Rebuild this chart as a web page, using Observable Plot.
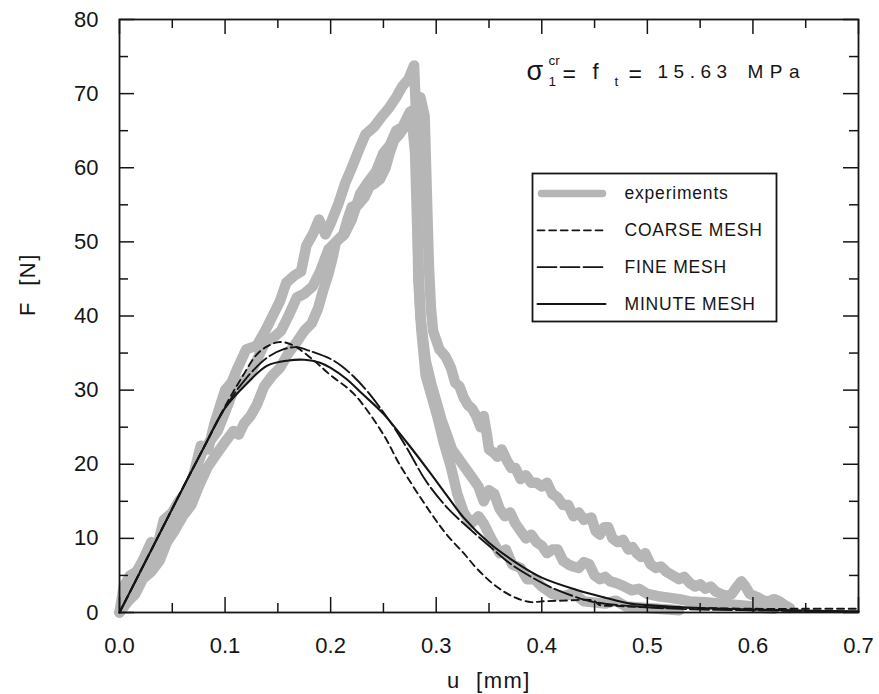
<!DOCTYPE html>
<html>
<head>
<meta charset="utf-8">
<script src="https://cdn.jsdelivr.net/npm/d3@7"></script>
<script src="https://cdn.jsdelivr.net/npm/@observablehq/plot@0.6"></script>
<style>
  html, body { margin: 0; padding: 0; background: #fff; }
  #chart svg { display: block; }
</style>
</head>
<body>
<div id="chart"></div>
<script>
// ---------- data ----------
const xMajor = [0, 0.1, 0.2, 0.3, 0.4, 0.5, 0.6, 0.7];
const xMinor = [0.05, 0.15, 0.25, 0.35, 0.45, 0.55, 0.65];
const yMajor = [0, 10, 20, 30, 40, 50, 60, 70, 80];
const yMinor = [5, 15, 25, 35, 45, 55, 65, 75];

const legendLabels = ["experiments", "COARSE MESH", "FINE MESH", "MINUTE MESH"];

// experiment 1 (highest peak, ends in the lowest tail)
const uExp1 = [0, 0.004, 0.01, 0.016, 0.022, 0.03, 0.036, 0.042, 0.05, 0.056, 0.062, 0.07, 0.077, 0.084, 0.09, 0.1, 0.106, 0.112, 0.12, 0.13, 0.138, 0.145, 0.152, 0.158, 0.166, 0.172, 0.177, 0.183, 0.189, 0.195, 0.2, 0.207, 0.214, 0.22, 0.227, 0.233, 0.241, 0.249, 0.255, 0.262, 0.268, 0.274, 0.279,
  0.281, 0.282, 0.283, 0.286, 0.29, 0.296, 0.301, 0.307, 0.314, 0.32, 0.326, 0.333, 0.34, 0.345, 0.352, 0.36, 0.366, 0.372, 0.38, 0.386, 0.393, 0.4, 0.41, 0.42, 0.43, 0.44, 0.46, 0.47, 0.48, 0.5, 0.53];
const fExp1 = [0, 3.5, 5, 5.5, 7, 9.5, 9, 12.5, 13.5, 15, 16, 18.5, 22.5, 22, 25.5, 30, 31, 33, 35.5, 36, 38, 40, 42, 44.5, 45.5, 46, 49.5, 51, 53, 51, 52.5, 55, 58, 60, 62.5, 64.5, 65.5, 67, 68, 69.5, 71, 72, 73.8,
  67, 56, 45, 38, 32, 29, 26.5, 23, 19.6, 16, 13.5, 12, 13, 12, 10, 8, 8.5, 6.5, 6, 4.5, 4.5, 3.5, 2.5, 2.2, 2.6, 1.5, 1.2, 1.6, 0.8, 0.6, 0.3];

// experiment 2 (middle rise, ends in the upper tail)
const uExp2 = [0, 0.01, 0.018, 0.025, 0.033, 0.04, 0.048, 0.055, 0.063, 0.07, 0.078, 0.085, 0.093, 0.1, 0.108, 0.115, 0.123, 0.13, 0.138, 0.145, 0.153, 0.16, 0.168, 0.175, 0.183, 0.19, 0.198, 0.205, 0.213, 0.22, 0.228, 0.235, 0.243, 0.25, 0.256, 0.262, 0.268, 0.275, 0.28, 0.285, 0.289, 0.291, 0.293, 0.295, 0.297,
  0.303, 0.309, 0.314, 0.318, 0.322, 0.326, 0.33, 0.334, 0.338, 0.342, 0.345, 0.348, 0.35, 0.355, 0.358, 0.362, 0.367, 0.371, 0.375, 0.38, 0.385, 0.39, 0.395, 0.4, 0.405, 0.41, 0.415, 0.42, 0.425, 0.43, 0.435, 0.44, 0.447, 0.451, 0.455, 0.459, 0.463, 0.467, 0.472, 0.477, 0.482, 0.486, 0.49, 0.494, 0.498, 0.503, 0.508, 0.513, 0.518, 0.524, 0.53, 0.535, 0.54, 0.545, 0.55, 0.555, 0.56, 0.565, 0.57, 0.575, 0.58, 0.585, 0.589, 0.593, 0.597, 0.605, 0.61, 0.615, 0.62, 0.625, 0.63, 0.635];
const fExp2 = [0, 2, 4.5, 6, 7, 10, 12.5, 14, 15, 18.5, 21.5, 23, 24.5, 27, 30, 31, 32, 34, 36.5, 37, 38, 40, 42.5, 43, 44, 46, 49, 50, 51, 53, 56.5, 58, 59.5, 62, 63, 65, 65.5, 67.5, 68, 69.5, 67, 57, 47, 41, 38,
  35.5, 34.5, 33, 31, 30.5, 29, 28, 27.5, 26.5, 25, 26.5, 24, 22, 21.5, 21, 22, 20.5, 19.5, 19.5, 18, 18.5, 17.5, 17.5, 17, 17.5, 16, 15.5, 14.5, 14.5, 13, 13.5, 12.5, 12.8, 11, 10.5, 11.5, 11.5, 10, 9.5, 9.8, 8.5, 8.8, 8, 7.5, 8, 6.5, 6, 6.2, 5.5, 5, 4.5, 4.8, 4, 3.5, 3.8, 3.2, 3.5, 2.8, 2.5, 2.2, 2.5, 3.5, 4.2, 3.5, 2.5, 2, 1.6, 1.5, 1.8, 1.5, 1, 0.6];

// experiment 3 (lower rise, ends in the middle tail)
const uExp3 = [0, 0.008, 0.015, 0.022, 0.03, 0.038, 0.045, 0.052, 0.06, 0.068, 0.075, 0.083, 0.09, 0.1, 0.108, 0.113, 0.118, 0.124, 0.13, 0.137, 0.145, 0.152, 0.16, 0.168, 0.175, 0.182, 0.188, 0.193, 0.198, 0.202, 0.205, 0.212, 0.216, 0.22, 0.226, 0.232, 0.237, 0.242, 0.247, 0.252, 0.256, 0.26, 0.265, 0.27, 0.277, 0.28, 0.282, 0.285,
  0.29, 0.295, 0.3, 0.305, 0.31, 0.315, 0.32, 0.325, 0.33, 0.335, 0.34, 0.345, 0.35, 0.355, 0.36, 0.365, 0.37, 0.375, 0.38, 0.385, 0.39, 0.395, 0.4, 0.405, 0.41, 0.415, 0.42, 0.425, 0.43, 0.435, 0.44, 0.445, 0.45, 0.455, 0.46, 0.465, 0.47, 0.477, 0.485, 0.492, 0.5, 0.51, 0.52, 0.53, 0.54, 0.555, 0.57, 0.585, 0.6, 0.61, 0.62];
const fExp3 = [0, 1.5, 2.5, 4.5, 5.5, 7, 9.5, 11, 13, 14.5, 17, 19.5, 21, 23, 24.5, 24, 25.5, 26.5, 28, 30.5, 32, 33, 35, 36.5, 38, 39, 41, 43.5, 45.7, 48, 50, 51, 53, 54.7, 55, 56, 57.5, 57.9, 58.5, 60, 62, 63.7, 64.5, 65.5, 66.5, 62, 52, 40,
  34, 31, 28.5, 26, 24, 22, 21, 20, 19, 18, 17, 15, 16.5, 16, 14, 13, 13.5, 12, 11, 10, 10.5, 9.5, 9, 8, 8.5, 8.5, 7, 6.5, 6.2, 6, 6.8, 6.5, 5, 4.5, 4.8, 4.2, 4, 3.6, 3, 3.2, 2.5, 2.2, 2, 1.8, 1.5, 1.4, 1.2, 1, 0.8, 0.6, 0.5];

// numerical models
const uCoarse = [0, 0.02, 0.04, 0.06, 0.08, 0.1, 0.115, 0.13, 0.14, 0.152, 0.165, 0.184, 0.2, 0.222, 0.25, 0.266, 0.295, 0.31, 0.326, 0.34, 0.358, 0.375, 0.39, 0.4, 0.42, 0.449, 0.455, 0.47, 0.5, 0.55, 0.6, 0.65, 0.7];
const fCoarse = [0, 5.6, 11.2, 16.8, 22.3, 27.8, 31.5, 34.8, 35.9, 36.5, 36, 34, 32, 29.5, 24, 19.8, 13.4, 10.5, 8, 5.7, 3.4, 2, 1.4, 1.5, 1.6, 1.6, 1, 0.9, 0.7, 0.6, 0.5, 0.5, 0.5];

const uFine = [0, 0.02, 0.04, 0.06, 0.08, 0.1, 0.12, 0.14, 0.155, 0.168, 0.18, 0.2, 0.21, 0.222, 0.235, 0.25, 0.26, 0.273, 0.29, 0.31, 0.326, 0.35, 0.37, 0.39, 0.41, 0.43, 0.45, 0.5, 0.55, 0.6, 0.65, 0.7];
const fFine = [0, 5.6, 11.2, 16.8, 22.3, 27.6, 31.6, 34.4, 35.5, 35.8, 35.3, 34.2, 33.3, 31.8, 29.8, 27, 25, 22, 17.8, 14.2, 12, 9, 6.6, 4.8, 3.3, 2.2, 1.4, 0.7, 0.4, 0.3, 0.2, 0.1];

const uMinute = [0, 0.02, 0.04, 0.06, 0.08, 0.1, 0.12, 0.14, 0.16, 0.175, 0.19, 0.2, 0.215, 0.23, 0.25, 0.273, 0.295, 0.31, 0.326, 0.35, 0.377, 0.4, 0.434, 0.46, 0.484, 0.5, 0.55, 0.6, 0.65, 0.7];
const fMinute = [0, 5.6, 11.2, 16.8, 22.3, 27.6, 30.8, 33.3, 34, 34.1, 33.7, 33, 31.5, 29.5, 26.8, 22.8, 18.7, 15.8, 12.8, 9.4, 6.6, 4.7, 3, 2, 1.2, 1, 0.6, 0.4, 0.25, 0.15];

// ---------- helpers ----------
const rows = (us, fs) => us.map((u, i) => ({u, f: fs[i]}));
const ink = "#151515";
const grey = "#b6b6b6";
const font = "'Liberation Sans', Arial, Helvetica, sans-serif";
const FW = 879 - 119 - 21;   // frame width
const FH = 694 - 19 - 82;    // frame height
const segShape = {draw(ctx, l) { ctx.moveTo(0, 0); ctx.lineTo(0, -l); }};

const legendStyles = [
  {stroke: grey, strokeWidth: 7.5, strokeLinecap: "round"},
  {stroke: ink, strokeWidth: 1.8, strokeDasharray: "7,4.6"},
  {stroke: ink, strokeWidth: 1.8, strokeDasharray: "19,4"},
  {stroke: ink, strokeWidth: 2}
];

const legendMarks = legendLabels.flatMap((lab, i) => {
  const dy = 174 + 36.8 * i;
  const isExp = i === 0;
  return [
    Plot.vector([lab], {frameAnchor: "top-left", dx: isExp ? 422 : 418, dy, rotate: 90,
      length: isExp ? 61 : 68, anchor: "start", shape: segShape, fill: "none", ...legendStyles[i]}),
    Plot.text([lab], {frameAnchor: "top-left", dx: 505, dy, text: d => d, textAnchor: "start",
      lineAnchor: "middle", fontSize: 17.5, fill: ink})
  ];
});

const note = (s, dx, dy, size) =>
  Plot.text([s], {frameAnchor: "top-left", dx, dy, text: d => d, textAnchor: "start",
    lineAnchor: "middle", fontSize: size, fill: ink});

const expLine = (us, fs) => Plot.line(rows(us, fs), {x: "u", y: "f", stroke: grey,
  strokeWidth: 10.5, strokeLinejoin: "round", strokeLinecap: "round"});

const chart = Plot.plot({
  width: 879,
  height: 694,
  marginLeft: 119,
  marginRight: 21,
  marginTop: 19,
  marginBottom: 82,
  style: {fontFamily: font, background: "#fff", color: ink},
  x: {domain: [0, 0.7], axis: null},
  y: {domain: [0, 80], axis: null},
  marks: [
    expLine(uExp1, fExp1),
    expLine(uExp2, fExp2),
    expLine(uExp3, fExp3),
    Plot.line(rows(uCoarse, fCoarse), {x: "u", y: "f", stroke: ink, strokeWidth: 1.9,
      strokeDasharray: "7,4.6", curve: "catmull-rom"}),
    Plot.line(rows(uFine, fFine), {x: "u", y: "f", stroke: ink, strokeWidth: 1.9,
      strokeDasharray: "19,4", curve: "catmull-rom"}),
    Plot.line(rows(uMinute, fMinute), {x: "u", y: "f", stroke: ink, strokeWidth: 2.1,
      curve: "catmull-rom"}),
    // inward ticks on all four sides
    Plot.ruleX(xMajor, {x: d => d, insetTop: FH - 15, stroke: ink, strokeWidth: 1.5}),
    Plot.ruleX(xMinor, {x: d => d, insetTop: FH - 9, stroke: ink, strokeWidth: 1.5}),
    Plot.ruleX(xMajor, {x: d => d, insetBottom: FH - 15, stroke: ink, strokeWidth: 1.5}),
    Plot.ruleX(xMinor, {x: d => d, insetBottom: FH - 9, stroke: ink, strokeWidth: 1.5}),
    Plot.ruleY(yMajor, {y: d => d, insetRight: FW - 15, stroke: ink, strokeWidth: 1.5}),
    Plot.ruleY(yMinor, {y: d => d, insetRight: FW - 9, stroke: ink, strokeWidth: 1.5}),
    Plot.ruleY(yMajor, {y: d => d, insetLeft: FW - 15, stroke: ink, strokeWidth: 1.5}),
    Plot.ruleY(yMinor, {y: d => d, insetLeft: FW - 9, stroke: ink, strokeWidth: 1.5}),
    Plot.frame({stroke: ink, strokeWidth: 1.8}),
    // tick labels
    Plot.axisX({anchor: "bottom", ticks: xMajor, tickSize: 0, tickPadding: 25,
      tickFormat: d => d.toFixed(1), fontSize: 22, label: null, fill: ink}),
    Plot.axisY({anchor: "left", ticks: yMajor, tickSize: 0, tickPadding: 21,
      tickFormat: d => String(d), fontSize: 22, label: null, fill: ink}),
    // axis titles
    Plot.text(["u\u00a0\u00a0[mm]"], {frameAnchor: "bottom", dy: 68, text: d => d,
      fontSize: 22, fill: ink, lineAnchor: "middle"}),
    Plot.text(["F\u00a0\u00a0[N]"], {frameAnchor: "left", dx: -92, rotate: -90, text: d => d,
      fontSize: 22, fill: ink, lineAnchor: "middle"}),
    // annotation: sigma_1^cr = f_t = 15.63 MPa
    note("σ", 407, 52, 27),
    note("cr", 429, 41, 13.5),
    note("1", 429, 62, 13.5),
    note("=", 443, 55, 23),
    note("f", 473, 52, 22),
    note("t", 495, 62, 13.5),
    note("=", 509, 55, 23),
    note("15.63", 538, 52, 19),
    note("MPa", 628, 52, 19),
    // legend
    Plot.frame({insetLeft: 413, insetRight: 82, insetTop: 154, insetBottom: 291,
      stroke: ink, strokeWidth: 1.8}),
    ...legendMarks
  ]
});

// letter spacing for the typewriter-like spaced labels
const spacing = {"15.63": 5.5, "MPa": 6.5, "experiments": 0.8, "COARSE MESH": 0.8,
  "FINE MESH": 0.8, "MINUTE MESH": 0.8, "u\u00a0\u00a0[mm]": 1.5, "F\u00a0\u00a0[N]": 1.5};
d3.select(chart).selectAll("text").each(function () {
  const s = spacing[this.textContent];
  if (s !== undefined) this.setAttribute("letter-spacing", s);
});

document.getElementById("chart").appendChild(chart);
</script>
</body>
</html>
